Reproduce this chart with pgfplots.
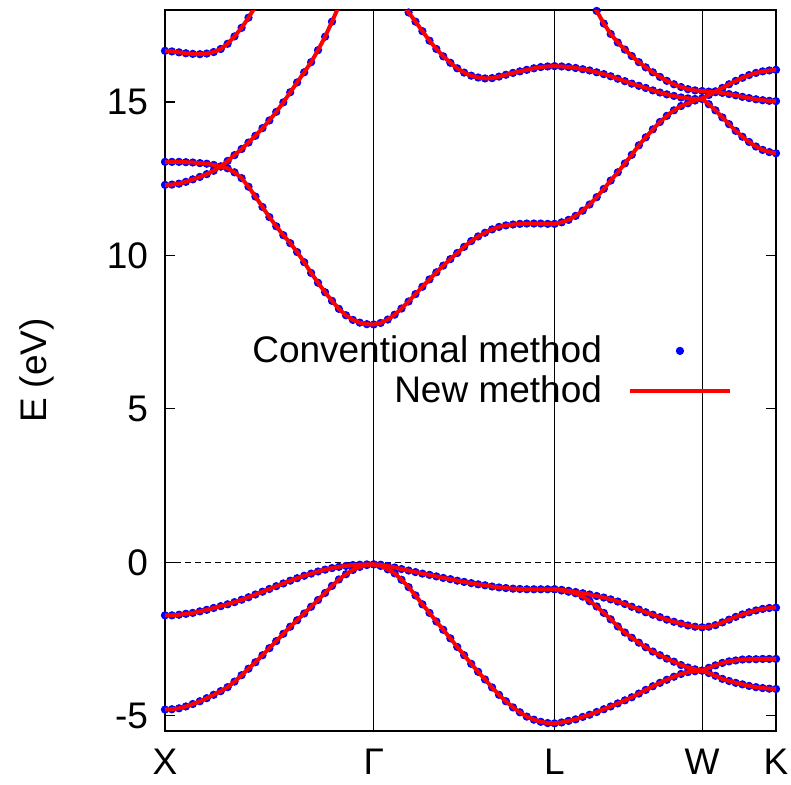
\documentclass[border=0pt]{standalone}
\usepackage{pgfplots}
\pgfplotsset{compat=1.18}
\usepackage{pgfplotstable}
\usepackage{fontspec}
\setmainfont{Liberation Sans}

% valence band 1 (lowest)
\pgfplotstableread{
k E
0 -4.80
0.033 -4.79
0.067 -4.76
0.1 -4.70
0.133 -4.62
0.167 -4.53
0.2 -4.43
0.233 -4.32
0.267 -4.20
0.3 -4.07
0.333 -3.89
0.367 -3.68
0.4 -3.47
0.433 -3.26
0.467 -3.03
0.5 -2.80
0.533 -2.57
0.567 -2.33
0.6 -2.10
0.633 -1.89
0.667 -1.67
0.7 -1.45
0.733 -1.23
0.767 -1.00
0.8 -0.77
0.833 -0.56
0.867 -0.39
0.9 -0.25
0.933 -0.15
0.967 -0.09
1.0 -0.07
1.033 -0.12
1.067 -0.23
1.1 -0.36
1.133 -0.57
1.167 -0.81
1.2 -1.08
1.233 -1.37
1.267 -1.65
1.3 -1.93
1.333 -2.20
1.367 -2.48
1.4 -2.76
1.433 -3.03
1.467 -3.31
1.5 -3.57
1.533 -3.82
1.567 -4.08
1.6 -4.32
1.633 -4.53
1.667 -4.73
1.7 -4.89
1.733 -5.03
1.767 -5.13
1.8 -5.20
1.833 -5.24
1.866 -5.25
1.900 -5.22
1.933 -5.17
1.967 -5.12
2.001 -5.04
2.034 -4.97
2.068 -4.88
2.102 -4.79
2.135 -4.70
2.169 -4.60
2.203 -4.50
2.236 -4.40
2.270 -4.28
2.303 -4.16
2.337 -4.04
2.371 -3.93
2.404 -3.83
2.438 -3.73
2.472 -3.64
2.505 -3.58
2.539 -3.55
2.573 -3.53
2.605 -3.44
2.637 -3.36
2.670 -3.28
2.702 -3.23
2.734 -3.20
2.766 -3.17
2.798 -3.16
2.831 -3.16
2.863 -3.15
2.895 -3.15
2.927 -3.15
}\vbA

% valence band 2
\pgfplotstableread{
k E
0 -1.73
0.033 -1.73
0.067 -1.71
0.1 -1.68
0.133 -1.65
0.167 -1.60
0.2 -1.55
0.233 -1.49
0.267 -1.43
0.3 -1.37
0.333 -1.30
0.367 -1.22
0.4 -1.14
0.433 -1.05
0.467 -0.96
0.5 -0.87
0.533 -0.78
0.567 -0.69
0.6 -0.60
0.633 -0.52
0.667 -0.44
0.7 -0.37
0.733 -0.30
0.767 -0.24
0.8 -0.19
0.833 -0.15
0.867 -0.12
0.9 -0.09
0.933 -0.08
0.967 -0.07
1.0 -0.07
1.033 -0.08
1.067 -0.12
1.1 -0.17
1.133 -0.22
1.167 -0.27
1.2 -0.32
1.233 -0.37
1.267 -0.41
1.3 -0.46
1.333 -0.51
1.367 -0.55
1.4 -0.60
1.433 -0.64
1.467 -0.68
1.5 -0.72
1.533 -0.75
1.567 -0.79
1.6 -0.82
1.633 -0.84
1.667 -0.86
1.7 -0.87
1.733 -0.88
1.767 -0.88
1.8 -0.88
1.833 -0.88
1.866 -0.88
1.900 -0.92
1.933 -0.96
1.967 -1.01
2.001 -1.12
2.034 -1.27
2.068 -1.44
2.102 -1.65
2.135 -1.86
2.169 -2.09
2.203 -2.29
2.236 -2.46
2.270 -2.62
2.303 -2.77
2.337 -2.91
2.371 -3.03
2.404 -3.14
2.438 -3.24
2.472 -3.35
2.505 -3.43
2.539 -3.49
2.573 -3.53
2.605 -3.61
2.637 -3.70
2.670 -3.80
2.702 -3.87
2.734 -3.93
2.766 -3.98
2.798 -4.03
2.831 -4.07
2.863 -4.10
2.895 -4.12
2.927 -4.13
}\vbB

% valence band 3 (from L)
\pgfplotstableread{
k E
1.866 -0.88
1.900 -0.90
1.933 -0.93
1.967 -0.97
2.001 -1.01
2.034 -1.05
2.068 -1.10
2.102 -1.15
2.135 -1.21
2.169 -1.28
2.203 -1.36
2.236 -1.45
2.270 -1.54
2.303 -1.63
2.337 -1.71
2.371 -1.79
2.404 -1.87
2.438 -1.94
2.472 -2.00
2.505 -2.06
2.539 -2.10
2.573 -2.12
2.605 -2.10
2.637 -2.05
2.670 -1.96
2.702 -1.87
2.734 -1.78
2.766 -1.70
2.798 -1.63
2.831 -1.57
2.863 -1.52
2.895 -1.49
2.927 -1.48
}\vbC

% conduction band, lowest
\pgfplotstableread{
k E
0 13.05
0.033 13.05
0.067 13.05
0.1 13.04
0.133 13.03
0.167 13.01
0.2 12.99
0.233 12.95
0.267 12.90
0.3 12.84
0.333 12.71
0.367 12.52
0.4 12.24
0.433 11.92
0.467 11.58
0.5 11.25
0.533 10.95
0.567 10.66
0.6 10.40
0.633 10.11
0.667 9.78
0.7 9.43
0.733 9.11
0.767 8.80
0.8 8.52
0.833 8.26
0.867 8.05
0.9 7.90
0.933 7.81
0.967 7.76
1.0 7.75
1.033 7.80
1.067 7.91
1.1 8.07
1.133 8.27
1.167 8.50
1.2 8.74
1.233 8.98
1.267 9.22
1.3 9.45
1.333 9.67
1.367 9.88
1.4 10.08
1.433 10.28
1.467 10.47
1.5 10.62
1.533 10.74
1.567 10.85
1.6 10.93
1.633 10.98
1.667 11.01
1.7 11.03
1.733 11.04
1.767 11.04
1.8 11.04
1.833 11.03
1.866 11.03
1.900 11.08
1.933 11.16
1.967 11.29
2.001 11.46
2.034 11.66
2.068 11.90
2.102 12.17
2.135 12.44
2.169 12.71
2.203 13.00
2.236 13.28
2.270 13.59
2.303 13.85
2.337 14.11
2.371 14.35
2.404 14.55
2.438 14.73
2.472 14.87
2.505 14.96
2.539 15.05
2.573 15.12
2.605 15.23
2.637 15.35
2.670 15.46
2.702 15.58
2.734 15.69
2.766 15.79
2.798 15.88
2.831 15.95
2.863 16.00
2.895 16.03
2.927 16.05
}\cbA

% conduction, X-Gamma rising
\pgfplotstableread{
k E
0 12.30
0.033 12.31
0.067 12.34
0.1 12.40
0.133 12.48
0.167 12.56
0.2 12.65
0.233 12.76
0.267 12.90
0.3 13.08
0.333 13.27
0.367 13.47
0.4 13.68
0.433 13.90
0.467 14.15
0.5 14.40
0.533 14.68
0.567 14.99
0.6 15.32
0.633 15.64
0.667 15.97
0.7 16.30
0.733 16.69
0.767 17.13
0.8 17.62
0.833 18.13
0.867 18.70
}\cbB

% conduction, X upper
\pgfplotstableread{
k E
0 16.67
0.033 16.65
0.067 16.62
0.1 16.59
0.133 16.57
0.167 16.56
0.2 16.58
0.233 16.63
0.267 16.73
0.3 16.90
0.333 17.14
0.367 17.42
0.4 17.75
0.433 18.11
0.467 18.50
}\cbC

% conduction, Gamma-L upper through W
\pgfplotstableread{
k E
1.1 18.60
1.133 18.25
1.167 17.92
1.2 17.62
1.233 17.31
1.267 17.00
1.3 16.73
1.333 16.49
1.367 16.28
1.4 16.10
1.433 15.96
1.467 15.86
1.5 15.80
1.533 15.77
1.567 15.78
1.6 15.83
1.633 15.89
1.667 15.95
1.7 16.00
1.733 16.05
1.767 16.10
1.8 16.14
1.833 16.16
1.866 16.17
1.900 16.16
1.933 16.14
1.967 16.11
2.001 16.07
2.034 16.03
2.068 15.97
2.102 15.91
2.135 15.84
2.169 15.76
2.203 15.68
2.236 15.60
2.270 15.53
2.303 15.46
2.337 15.38
2.371 15.31
2.404 15.25
2.438 15.20
2.472 15.15
2.505 15.12
2.539 15.10
2.573 15.10
2.605 14.93
2.637 14.73
2.670 14.50
2.702 14.28
2.734 14.06
2.766 13.87
2.798 13.70
2.831 13.55
2.863 13.44
2.895 13.37
2.927 13.33
}\cbD

% conduction, L-W upper
\pgfplotstableread{
k E
2.001 18.70
2.034 18.33
2.068 17.97
2.102 17.56
2.135 17.22
2.169 16.94
2.203 16.71
2.236 16.50
2.270 16.30
2.303 16.13
2.337 15.97
2.371 15.82
2.404 15.69
2.438 15.58
2.472 15.49
2.505 15.42
2.539 15.38
2.573 15.36
2.605 15.34
2.637 15.32
2.670 15.30
2.702 15.26
2.734 15.22
2.766 15.17
2.798 15.13
2.831 15.09
2.863 15.06
2.895 15.04
2.927 15.03
}\cbE

\pgfplotsset{
  conv/.style={only marks, mark=*, mark size=1.85pt, color=blue, mark options={draw=blue, fill=blue}},
  newm/.style={color=red, line width=2pt, no markers},
  convleg/.style={legend image code/.code={\path (0pt,0pt) (50pt,0pt); \draw[##1] plot coordinates {(25pt,0pt)};}},
  newmleg/.style={legend image code/.code={\draw[##1] (0pt,0pt) -- (50pt,0pt);}},
}

\begin{document}
\begin{tikzpicture}
\begin{axis}[
  scale only axis,
  width=305.5pt, height=360.5pt,
  xmin=0, xmax=2.927, ymin=-5.5, ymax=18,
  clip mode=individual,
  axis line style={black, line width=0.7pt},
  xtick={0,1,1.866,2.573,2.927},
  xticklabels={X,Γ,L,W,K},
  xtick style={draw=none},
  xmajorgrids,
  grid style={black, line width=0.6pt},
  ytick={-5,0,5,10,15},
  ytick pos=both,
  tick align=inside,
  ytick style={black, line width=0.6pt},
  major tick length=5pt,
  /pgf/number format/assume math mode=true,
  tick label style={font=\fontsize{18.5}{22}\selectfont},
  xticklabel style={inner sep=0pt, yshift=-9pt},
  yticklabel style={xshift=-5pt},
  ylabel={E (eV)},
  every axis y label/.style={at={(axis description cs:-0.2095,0.5)}, rotate=90, anchor=center, font=\fontsize{18.5}{22}\selectfont},
  legend style={draw=none, fill=none, font=\fontsize{18.5}{22}\selectfont,
    at={(axis cs:2.718,6.24)}, anchor=east, inner sep=0pt, row sep=5pt,
    column sep=13pt, nodes={inner sep=0pt}},
  legend cell align=right,
  legend plot pos=right,
]
\addplot[black, line width=0.5pt, dash pattern=on 3pt off 2pt, forget plot] coordinates {(0,0) (2.927,0)};

\addplot[conv, convleg] table {\vbA};
\addlegendentry{Conventional method}
\addplot[conv, forget plot] table {\vbB};
\addplot[conv, forget plot] table {\vbC};
\addplot[conv, forget plot] table {\cbA};
\addplot[conv, forget plot] table {\cbB};
\addplot[conv, forget plot] table {\cbC};
\addplot[conv, forget plot] table {\cbD};
\addplot[conv, forget plot] table {\cbE};

\addplot[newm, newmleg] table {\vbA};
\addlegendentry{New method}
\addplot[newm, forget plot] table {\vbB};
\addplot[newm, forget plot] table {\vbC};
\addplot[newm, forget plot] table {\cbA};
\addplot[newm, forget plot] table {\cbB};
\addplot[newm, forget plot] table {\cbC};
\addplot[newm, forget plot] table {\cbD};
\addplot[newm, forget plot] table {\cbE};
\end{axis}
\pgfresetboundingbox
\path ([xshift=-82.5pt,yshift=-26.5pt]current axis.south west) rectangle ([xshift=7.5pt,yshift=5pt]current axis.north east);
\end{tikzpicture}
\end{document}
